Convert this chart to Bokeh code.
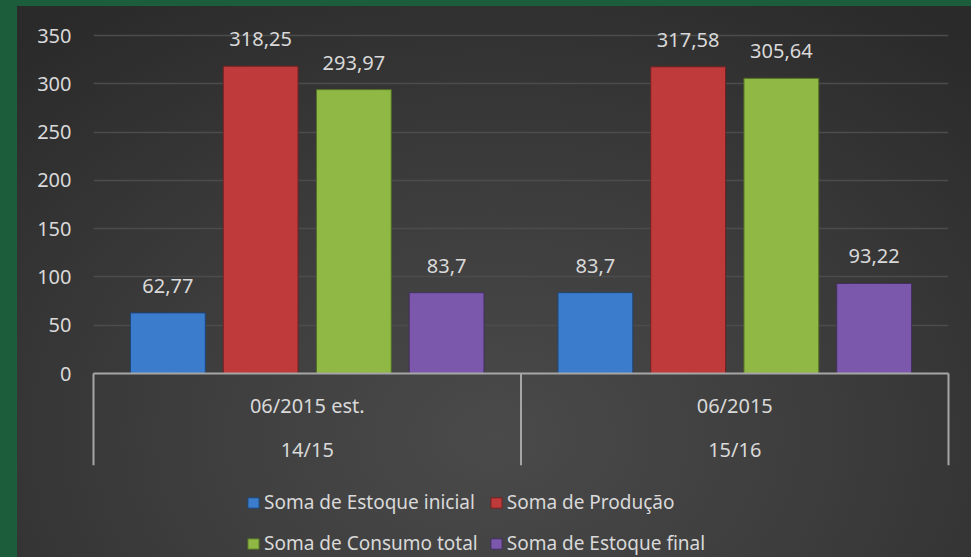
from bokeh.plotting import figure
from bokeh.layouts import column
from bokeh.models import (ColumnDataSource, FactorRange, Range1d, CategoricalAxis, FixedTicker,
                          Legend, LegendItem, GlobalInlineStyleSheet)
from bokeh.transform import dodge
from bokeh.core.properties import value
from bokeh.embed import file_html
from bokeh.resources import INLINE

# ---- data ----
safras = ["14/15", "15/16"]
datas = ["06/2015 est.", "06/2015"]
series_names = ["Soma de Estoque inicial", "Soma de Produção",
                "Soma de Consumo total", "Soma de Estoque final"]
estoque_inicial = [62.77, 83.7]
producao = [318.25, 317.58]
consumo_total = [293.97, 305.64]
estoque_final = [83.7, 93.22]
y_ticks = [0, 50, 100, 150, 200, 250, 300, 350]

# ---- style ----
colors = ["#3c7ccc", "#bf3a3b", "#8fb944", "#7b58ab"]
edges = ["#1f4677", "#6e2222", "#526e26", "#44305f"]
offsets = [-0.326, -0.109, 0.109, 0.326]
FONT = "Noto Sans"
TXT = "#d9d9d9"
FS = "20px"
LINE = "#a6a6a6"

series = [estoque_inicial, producao, consumo_total, estoque_final]
src = {"x": datas, "safra": safras}
for i, s in enumerate(series):
    src[f"s{i}"] = s
    src[f"l{i}"] = [f"{v:g}".replace(".", ",") for v in s]
source = ColumnDataSource(src)

# y range reaches a little above the 350 gridline so the top value labels are not clipped
p = figure(x_range=FactorRange(factors=datas, range_padding=0, factor_padding=0),
           y_range=Range1d(0, 371.75), width=954, height=471,
           output_backend="svg", toolbar_location=None, x_axis_location=None,
           min_border_left=76, min_border_right=23, min_border_top=8, min_border_bottom=104)
p.background_fill_color = None
p.border_fill_color = None
p.outline_line_color = None

renderers = []
for i, s in enumerate(series):
    r = p.vbar(x=dodge("x", offsets[i], range=p.x_range), top=f"s{i}", width=0.175,
               source=source, fill_color=colors[i], line_color=edges[i], line_width=1)
    renderers.append(r)
    p.text(x=dodge("x", offsets[i], range=p.x_range), y=f"s{i}", text=f"l{i}", source=source,
           text_align="center", text_baseline="bottom", y_offset=-20,
           text_color=TXT, text_font=value(FONT), text_font_size=FS)

# y axis
p.yaxis.ticker = FixedTicker(ticks=y_ticks)
p.yaxis.axis_line_color = None
p.yaxis.major_tick_line_color = None
p.yaxis.minor_tick_line_color = None
p.yaxis.major_tick_out = 0
p.yaxis.major_tick_in = 0
p.yaxis.major_label_standoff = 22
p.yaxis.major_label_text_color = TXT
p.yaxis.major_label_text_font = FONT
p.yaxis.major_label_text_font_size = FS

p.ygrid.ticker = FixedTicker(ticks=y_ticks)
p.ygrid.grid_line_color = "#4c4c4c"
p.ygrid.grid_line_width = 1.5
p.xgrid.grid_line_color = None

# category axes: date (upper row) and season (lower row)
p.extra_x_ranges = {"safra": FactorRange(factors=safras, range_padding=0, factor_padding=0)}
ax_data = CategoricalAxis(axis_line_color=LINE, axis_line_width=2,
                          major_tick_line_color=None, minor_tick_line_color=None,
                          major_tick_out=0, major_tick_in=0, major_label_standoff=18,
                          major_label_text_color=TXT, major_label_text_font=FONT,
                          major_label_text_font_size=FS)
ax_safra = CategoricalAxis(x_range_name="safra", axis_line_color=None,
                           major_tick_line_color=None, minor_tick_line_color=None,
                           major_tick_out=0, major_tick_in=0, major_label_standoff=14,
                           major_label_text_color=TXT, major_label_text_font=FONT,
                           major_label_text_font_size=FS)
p.add_layout(ax_data, "below")
p.add_layout(ax_safra, "below")

# vertical box lines between / around the category groups
bounds = list(range(len(datas) + 1))
p.segment(x0=bounds, x1=bounds, y0=[0] * len(bounds), y1=[-95] * len(bounds),
          line_color=LINE, line_width=2, level="overlay")

# ---- legend strip (second figure underneath) ----
p2 = figure(width=954, height=80, output_backend="svg", toolbar_location=None,
            x_range=Range1d(1, 2), y_range=Range1d(1, 2),
            x_axis_location=None, y_axis_location=None, min_border=0)
p2.background_fill_color = None
p2.border_fill_color = None
p2.outline_line_color = None
p2.grid.visible = False
# legend key proxies (kept outside the strip's visible ranges)
keys = [p2.vbar(x=[0], top=[0], bottom=[0], width=0, fill_color=colors[i], line_color=edges[i])
        for i in range(4)]
legend = Legend(items=[LegendItem(label=series_names[i], renderers=[keys[i]]) for i in range(4)],
                orientation="horizontal", ncols=2, location=(153, -1),
                label_text_color=TXT, label_text_font=FONT, label_text_font_size="19px",
                glyph_width=14, glyph_height=13, label_height=30, label_standoff=4, spacing=11,
                padding=0, margin=0, background_fill_alpha=0, border_line_color=None)
p2.add_layout(legend, "center")

layout = column(p, p2, spacing=0)
layout.margin = (6, 0, 0, 17)
layout.stylesheets = [GlobalInlineStyleSheet(css="html, body { background-color: #1c5e3b; margin: 0; padding: 0; overflow: hidden; }")]
layout.styles = {"background": "radial-gradient(ellipse 75% 95% at 50% 78%, #4a4a4a 0%, #3d3d3d 45%, #2a2a2a 100%)"}

open("out.html", "w").write(file_html(layout, INLINE))
